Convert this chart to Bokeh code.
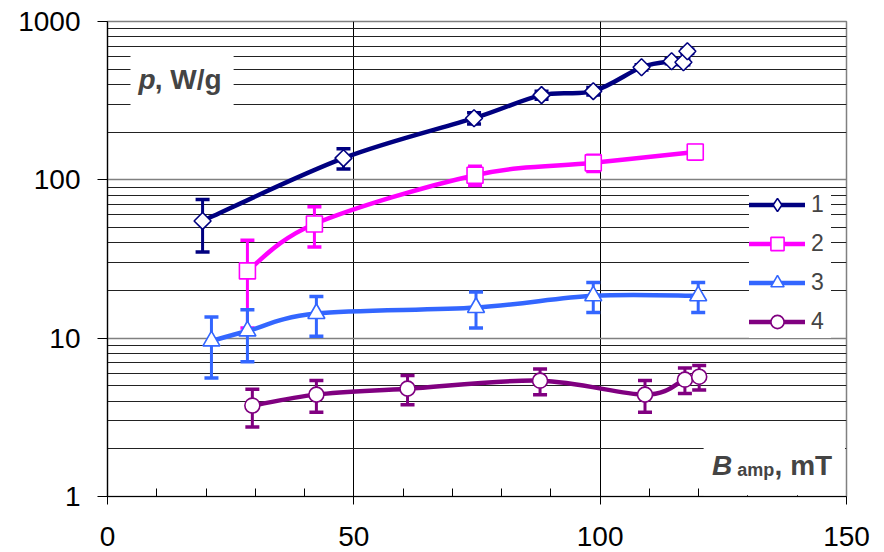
import numpy as np
from bokeh.plotting import figure
from bokeh.models import (FixedTicker, PrintfTickFormatter, Label, BoxAnnotation,
                          Legend, LegendItem, ColumnDataSource)
from bokeh.embed import file_html
from bokeh.resources import INLINE

# ---------------- data ----------------
x_ticks = [0, 50, 100, 150]
x_minor = [10, 20, 30, 40, 60, 70, 80, 90, 110, 120, 130, 140]
y_ticks = [1, 10, 100, 1000]

s1_x = [19.3, 47.9, 74.4, 88.1, 98.6, 108.4, 114.5, 116.9, 117.7]
s1_y = [55, 137, 245, 343, 363, 514, 561, 553, 649]
s1_e = [20, 20, 20, 20, 20, 20, 20, 20, 20]

s2_x = [28.4, 42.0, 74.6, 98.6, 119.3]
s2_y = [26.6, 52.6, 107, 128, 150]
s2_e = [15, 15, 15, 15, 15]

s3_x = [21.1, 28.4, 42.4, 74.8, 98.6, 119.9]
s3_y = [9.6, 11.1, 14.3, 15.6, 18.5, 18.5]
s3_e = [4, 4, 4, 4, 4, 4]

s4_x = [29.4, 42.4, 60.9, 87.8, 109.1, 117.2, 120.1]
s4_y = [3.75, 4.4, 4.8, 5.39, 4.4, 5.47, 5.71]
s4_e = [1, 1, 1, 1, 1, 1, 1]

names = ["1", "2", "3", "4"]
colors = ["#000080", "#FF00FF", "#3366FF", "#800080"]
markers = ["square", "square", "triangle", "circle"]
msizes = [12, 16, 17, 15]
mangles = [np.pi / 4, 0, 0, 0]

FONT = "Liberation Sans"


def smooth_segments(xs, ys):
    """Bezier control points (Catmull-Rom) in x / log10(y) space."""
    lx = np.asarray(xs, float)
    ly = np.log10(np.asarray(ys, float))
    n = len(lx)
    d = {k: [] for k in ["x0", "y0", "x1", "y1", "cx0", "cy0", "cx1", "cy1"]}
    for i in range(n - 1):
        a = i - 1 if i > 0 else i
        b = i + 2 if i + 2 < n else i + 1
        d["x0"].append(lx[i]); d["y0"].append(10 ** ly[i])
        d["x1"].append(lx[i + 1]); d["y1"].append(10 ** ly[i + 1])
        d["cx0"].append(lx[i] + (lx[i + 1] - lx[a]) / 6)
        d["cy0"].append(10 ** (ly[i] + (ly[i + 1] - ly[a]) / 6))
        d["cx1"].append(lx[i + 1] - (lx[b] - lx[i]) / 6)
        d["cy1"].append(10 ** (ly[i + 1] - (ly[b] - ly[i]) / 6))
    return d


p = figure(width=884, height=552, x_range=(0, 150), y_range=(1, 1000),
           y_axis_type="log", output_backend="svg", toolbar_location=None,
           min_border_left=107, min_border_right=38, min_border_top=21,
           min_border_bottom=56)
p.background_fill_color = "white"
p.border_fill_color = "white"
p.outline_line_color = "#808080"
p.outline_line_width = 1.5

# axes
xa = p.xaxis[0]
xa.ticker = FixedTicker(ticks=x_ticks, minor_ticks=x_minor)
xa.axis_line_color = "black"
xa.axis_line_width = 1.2
xa.major_tick_line_color = "black"
xa.major_tick_out = 8
xa.major_tick_in = 0
xa.minor_tick_line_color = "black"
xa.minor_tick_in = 8
xa.minor_tick_out = 0
xa.major_label_text_font = FONT
xa.major_label_text_font_size = "28px"
xa.major_label_text_color = "black"
xa.major_label_standoff = 22

ya = p.yaxis[0]
ya.ticker = FixedTicker(ticks=y_ticks,
                        minor_ticks=[k * 10 ** e for e in range(3) for k in range(2, 10)])
ya.formatter = PrintfTickFormatter(format="%d")
ya.axis_line_color = "black"
ya.axis_line_width = 1.2
ya.major_tick_line_color = "black"
ya.major_tick_out = 10
ya.major_tick_in = 0
ya.minor_tick_line_color = None
ya.major_label_text_font = FONT
ya.major_label_text_font_size = "28px"
ya.major_label_text_color = "black"
ya.major_label_standoff = 17

# grids
p.xgrid.ticker = FixedTicker(ticks=[50, 100])
p.xgrid.grid_line_color = "black"
p.xgrid.grid_line_width = 1
p.ygrid.ticker = ya.ticker
p.ygrid.grid_line_color = "#808080"
p.ygrid.grid_line_width = 1.5
p.ygrid.minor_grid_line_color = "#222222"
p.ygrid.minor_grid_line_width = 1

series = [(s1_x, s1_y, s1_e), (s2_x, s2_y, s2_e), (s3_x, s3_y, s3_e), (s4_x, s4_y, s4_e)]

line_rs = []
for (xs, ys, es), c in zip(series, colors):
    br = p.bezier(source=ColumnDataSource(smooth_segments(xs, ys)),
                  x0="x0", y0="y0", x1="x1", y1="y1",
                  cx0="cx0", cy0="cy0", cx1="cx1", cy1="cy1",
                  line_color=c, line_width=4.5, line_cap="round")
    line_rs.append(br)
    lo = [y - e for y, e in zip(ys, es)]
    hi = [y + e for y, e in zip(ys, es)]
    p.segment(x0=xs, y0=lo, x1=xs, y1=hi, line_color=c, line_width=3)
    p.scatter(x=xs + xs, y=lo + hi, marker="dash", size=14, line_color=c,
              line_width=3.5)

# legend sample for series 1 (the legend does not rotate markers):
# plain diamonds drawn first, fully hidden under the rotated squares below
leg1 = p.scatter(x=s1_x, y=s1_y, marker="diamond", size=14, fill_color="white",
                 line_color=colors[0], line_width=1.6)

mark_rs = []
for (xs, ys, es), c, m, s, a in zip(series, colors, markers, msizes, mangles):
    r = p.scatter(x=xs, y=ys, marker=m, size=s, angle=a, fill_color="white",
                  line_color=c, line_width=1.6)
    mark_rs.append(r)

leg_marks = [leg1] + mark_rs[1:]

# white boxes behind the axis titles
p.add_layout(BoxAnnotation(left=4.67, right=25.6, bottom=274, top=656,
                           fill_color="white", fill_alpha=1, line_color=None))
p.add_layout(BoxAnnotation(left=121.0, right=149.7, bottom=1.018, top=2.36,
                           fill_color="white", fill_alpha=1, line_color=None))

# axis titles (bold, italic symbol)
p.add_layout(Label(x=6.3, y=432, text="p", text_font=FONT, text_font_size="28px",
                   text_font_style="bold italic", text_baseline="alphabetic"))
p.add_layout(Label(x=9.6, y=432, text=", W/g", text_font=FONT, text_font_size="28px",
                   text_font_style="bold", text_baseline="alphabetic"))
p.add_layout(Label(x=122.7, y=1.568, text="B", text_font=FONT, text_font_size="28px",
                   text_font_style="bold italic", text_baseline="alphabetic"))
p.add_layout(Label(x=127.8, y=1.48, text="amp", text_font=FONT, text_font_size="18px",
                   text_font_style="bold", text_baseline="alphabetic"))
p.add_layout(Label(x=135.4, y=1.568, text=", mT", text_font=FONT, text_font_size="28px",
                   text_font_style="bold", text_baseline="alphabetic"))

legend = Legend(items=[LegendItem(label=n, renderers=[lr, mr])
                       for n, lr, mr in zip(names, line_rs, leg_marks)],
                location=(642, 158), glyph_width=56, glyph_height=33,
                label_height=33, spacing=6, padding=5, margin=0,
                label_standoff=6, label_text_font=FONT,
                label_text_font_size="23px", background_fill_color="white",
                background_fill_alpha=1, border_line_color=None)
p.add_layout(legend)

open("out.html", "w").write(file_html(p, INLINE))
